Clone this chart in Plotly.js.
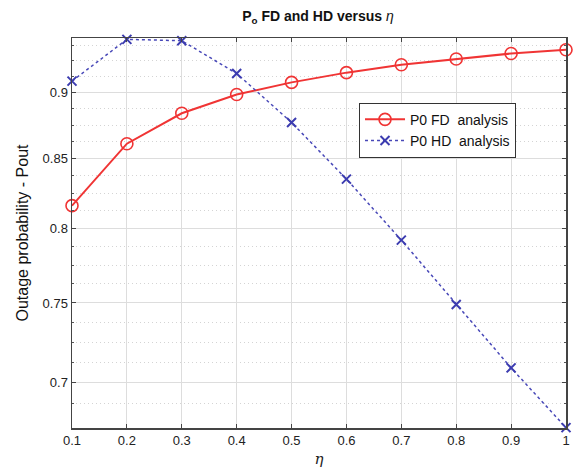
<!DOCTYPE html>
<html>
<head>
<meta charset="utf-8">
<script src="https://cdn.plot.ly/plotly-3.0.1.min.js"></script>
<style>html,body{margin:0;padding:0;background:#fff;}#chart{width:575px;height:471px;}</style>
</head>
<body>
<div id="chart"></div>
<script>
const eta = [0.1, 0.2, 0.3, 0.4, 0.5, 0.6, 0.7, 0.8, 0.9, 1.0];
const fdValues = [0.816, 0.861, 0.884, 0.8985, 0.908, 0.9157, 0.922, 0.9266, 0.931, 0.934];
const hdValues = [0.909, 0.9425, 0.9414, 0.915, 0.877, 0.835, 0.792, 0.749, 0.709, 0.6732];
const xTickVals = [0.1, 0.2, 0.3, 0.4, 0.5, 0.6, 0.7, 0.8, 0.9, 1.0];
const xTickText = ['0.1', '0.2', '0.3', '0.4', '0.5', '0.6', '0.7', '0.8', '0.9', '1'];
const yTickVals = [0.7, 0.75, 0.8, 0.85, 0.9];
const yTickText = ['0.7', '0.75', '0.8', '0.85', '0.9'];
const yMinorVals = [0.6875, 0.7125, 0.725, 0.7375, 0.7625, 0.775, 0.7875, 0.8125, 0.825, 0.8375, 0.8625, 0.875, 0.8875, 0.9125, 0.925, 0.9375];
const seriesNames = ['P0 FD  analysis', 'P0 HD  analysis'];

const font = 'Liberation Sans, Arial, Helvetica, sans-serif';

const traces = [
  {
    x: eta, y: fdValues, name: seriesNames[0], type: 'scatter', mode: 'lines+markers',
    line: {color: '#f03434', width: 2},
    marker: {symbol: 'circle-open', size: 12, color: '#f03434', line: {width: 1.6, color: '#f03434'}},
    cliponaxis: false
  },
  {
    x: eta, y: hdValues, name: seriesNames[1], type: 'scatter', mode: 'lines+markers',
    line: {color: '#4848b8', width: 1.5, dash: 'dot'},
    marker: {symbol: 'x-thin-open', size: 9, color: '#3c3cb0', line: {width: 2, color: '#3c3cb0'}},
    cliponaxis: false
  }
];

const layout = {
  width: 575, height: 471,
  margin: {l: 72, r: 9, t: 38, b: 43},
  paper_bgcolor: '#fff', plot_bgcolor: '#fff',
  font: {family: font, color: '#222', size: 13},
  title: {
    text: '<b>P<sub>o</sub> FD and HD versus </b><i>η</i>',
    font: {family: font, size: 14, color: '#111'},
    x: 0.553, xanchor: 'center', y: 0.965, yanchor: 'middle'
  },
  xaxis: {
    range: [0.1, 1.0],
    tickvals: xTickVals, ticktext: xTickText,
    ticks: 'inside', ticklen: 4, tickcolor: '#444',
    showline: true, linecolor: '#444', linewidth: 1.5, mirror: 'ticks',
    showgrid: true, gridcolor: '#dddddd', gridwidth: 1,
    zeroline: false,
    tickfont: {family: font, size: 13, color: '#222'},
    title: {text: '<i>η</i>', font: {family: 'DejaVu Serif, serif', size: 15, color: '#222'}, standoff: 6}
  },
  yaxis: {
    type: 'log',
    range: [Math.log10(0.673), Math.log10(0.9436)],
    tickvals: yTickVals, ticktext: yTickText,
    ticks: 'inside', ticklen: 4, tickcolor: '#444',
    showline: true, linecolor: '#444', linewidth: 1.5, mirror: 'ticks',
    showgrid: true, gridcolor: '#dddddd', gridwidth: 1,
    zeroline: false,
    tickfont: {family: font, size: 13, color: '#222'},
    minor: {
      tickmode: 'array', tickvals: yMinorVals,
      ticks: 'inside', ticklen: 2, tickcolor: '#555',
      showgrid: true, gridcolor: '#d4d4d4', gridwidth: 1, griddash: '1px,3px'
    },
    title: {text: 'Outage probability - Pout', font: {family: font, size: 16, color: '#111'}, standoff: 10}
  },
  legend: {
    x: 0.581, y: 0.834, xanchor: 'left', yanchor: 'top',
    bgcolor: '#fff', bordercolor: '#333', borderwidth: 1,
    font: {family: font, size: 14, color: '#111'},
    tracegroupgap: 0, itemwidth: 40
  },
  showlegend: true
};

Plotly.newPlot('chart', traces, layout, {displayModeBar: false, staticPlot: true});
</script>
</body>
</html>
